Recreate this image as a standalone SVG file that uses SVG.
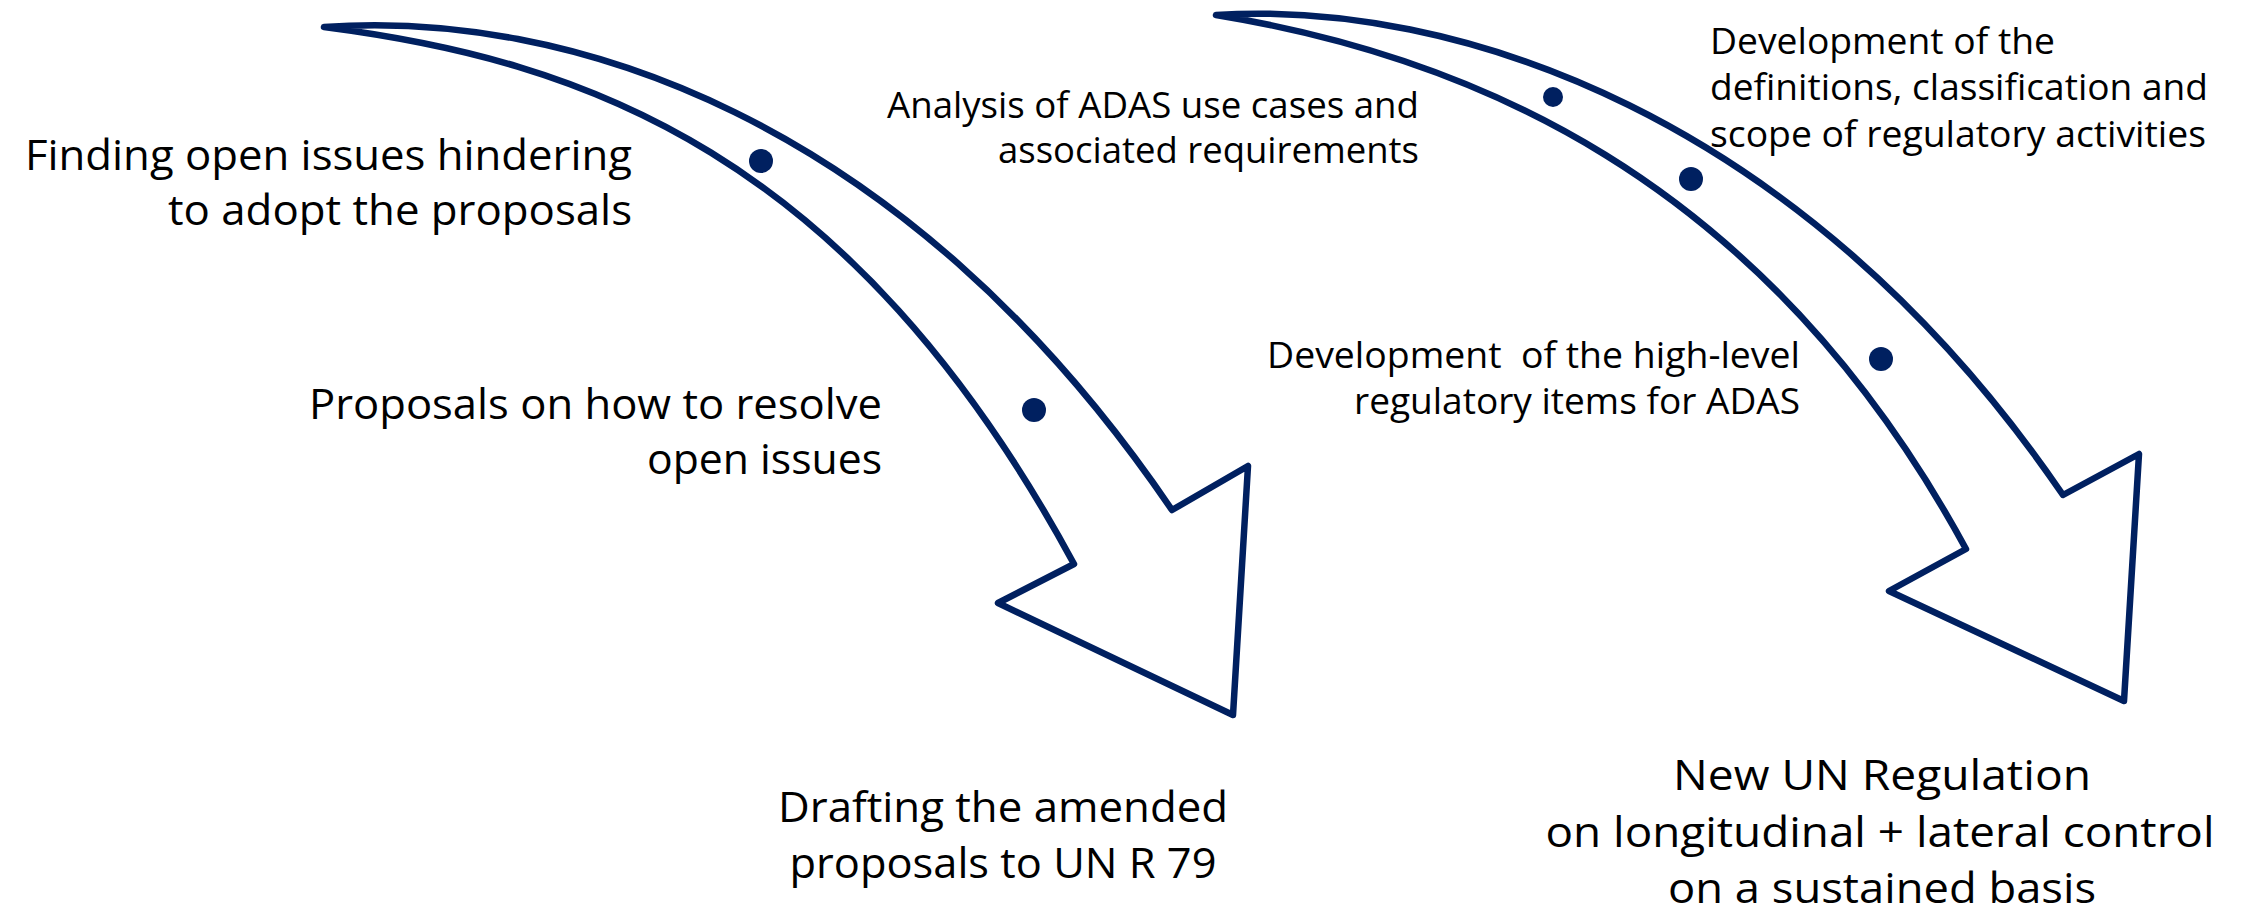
<svg xmlns="http://www.w3.org/2000/svg" width="2241" height="922" viewBox="0 0 2241 922">
  <style>
    .arrow { fill: #ffffff; stroke: #002060; stroke-width: 6.5; stroke-linejoin: round; stroke-linecap: round; }
    .dot { fill: #002060; }
    .big { font-family: "Open Sans", "Liberation Sans", sans-serif; font-size: 42px; fill: #000000; }
    .small { font-family: "Open Sans", "Liberation Sans", sans-serif; font-size: 37px; fill: #000000; }
  </style>
  <rect width="2241" height="922" fill="#ffffff"/>

  <!-- curved block arrows -->
  <g id="connectors">
    <path id="arrow-r79" class="arrow"
          d="M324,27 C560,10 900,110 1172,510 L1248,466 L1233,715 L998,603 L1074,564 C850,150 580,60 324,27 Z"/>
    <path id="arrow-new-reg" class="arrow"
          d="M1216,15 C1450,0 1800,110 2063,495 L2139,454 L2124,701 L1889,591 L1966,549 C1760,170 1460,55 1216,15 Z"/>
  </g>

  <!-- step markers on the arrows -->
  <g id="markers">
    <circle class="dot" cx="761" cy="161" r="12"/>
    <circle class="dot" cx="1034" cy="410" r="12"/>
    <circle class="dot" cx="1553" cy="97" r="10"/>
    <circle class="dot" cx="1691" cy="179" r="12"/>
    <circle class="dot" cx="1881" cy="359" r="12"/>
  </g>

  <g id="node-finding-issues">
    <text class="big" text-anchor="end" x="632" y="170" textLength="607" lengthAdjust="spacingAndGlyphs">Finding open issues hindering</text>
    <text class="big" text-anchor="end" x="632" y="225" textLength="464" lengthAdjust="spacingAndGlyphs">to adopt the proposals</text>
  </g>

  <g id="node-resolve-proposals">
    <text class="big" text-anchor="end" x="882" y="419" textLength="573" lengthAdjust="spacingAndGlyphs">Proposals on how to resolve</text>
    <text class="big" text-anchor="end" x="882" y="474" textLength="235" lengthAdjust="spacingAndGlyphs">open issues</text>
  </g>

  <g id="node-drafting">
    <text class="big" text-anchor="middle" x="1003" y="822" textLength="450" lengthAdjust="spacingAndGlyphs">Drafting the amended</text>
    <text class="big" text-anchor="middle" x="1003" y="878" textLength="427" lengthAdjust="spacingAndGlyphs">proposals to UN R 79</text>
  </g>

  <g id="node-analysis">
    <text class="small" text-anchor="end" x="1419" y="118" textLength="532" lengthAdjust="spacingAndGlyphs">Analysis of ADAS use cases and</text>
    <text class="small" text-anchor="end" x="1419" y="163" textLength="421" lengthAdjust="spacingAndGlyphs">associated requirements</text>
  </g>

  <g id="node-definitions">
    <text class="small" x="1710" y="54" textLength="345" lengthAdjust="spacingAndGlyphs">Development of the</text>
    <text class="small" x="1710" y="100" textLength="498" lengthAdjust="spacingAndGlyphs">definitions, classification and</text>
    <text class="small" x="1710" y="147" textLength="496" lengthAdjust="spacingAndGlyphs">scope of regulatory activities</text>
  </g>

  <g id="node-high-level">
    <text class="small" text-anchor="end" x="1800" y="368" textLength="533" lengthAdjust="spacingAndGlyphs" xml:space="preserve">Development  of the high-level</text>
    <text class="small" text-anchor="end" x="1800" y="414" textLength="446" lengthAdjust="spacingAndGlyphs">regulatory items for ADAS</text>
  </g>

  <g id="node-new-regulation">
    <text class="big" text-anchor="middle" x="1882" y="790" textLength="418" lengthAdjust="spacingAndGlyphs">New UN Regulation</text>
    <text class="big" text-anchor="middle" x="1880" y="847" textLength="669" lengthAdjust="spacingAndGlyphs">on longitudinal + lateral control</text>
    <text class="big" text-anchor="middle" x="1882" y="903" textLength="428" lengthAdjust="spacingAndGlyphs">on a sustained basis</text>
  </g>
</svg>
